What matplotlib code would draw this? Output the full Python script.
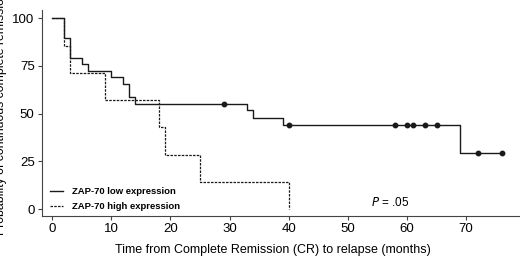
import matplotlib
matplotlib.use("Agg")
from matplotlib import pyplot as plt

plt.rcParams['font.family'] = ['Liberation Sans', 'DejaVu Sans']

# ZAP-70 low expression (solid)
lowTime = [0, 2, 3, 5, 6, 10, 12, 13, 14, 33, 34, 39, 69, 76]
lowSurv = [100, 89.7, 79.3, 75.9, 72.4, 69.0, 65.5, 58.6, 55.2, 51.7, 47.6, 44.2, 29.5, 29.5]
lowCensT = [29, 40, 58, 60, 61, 63, 65, 72, 76]
lowCensS = [55.2, 44.2, 44.2, 44.2, 44.2, 44.2, 44.2, 29.5, 29.5]

# ZAP-70 high expression (dashed)
highTime = [0, 2, 3, 9, 18, 19, 25, 40]
highSurv = [100, 85.7, 71.4, 57.1, 42.9, 28.6, 14.3, 0]

col = "#1a1a1a"

fig = plt.figure(figsize=(5.2, 2.57), dpi=100)
ax = fig.add_axes([0.080, 0.160, 0.93, 0.801])

ax.step(lowTime, lowSurv, where="post", color=col, linewidth=1.0, label="ZAP-70 low expression")
ax.step(highTime, highSurv, where="post", color=col, linewidth=0.9, linestyle=(0, (2, 1)),
        label="ZAP-70 high expression")
ax.plot(lowCensT, lowCensS, "o", color=col, markersize=3.2, linestyle="none")

ax.set_xlim(-1.8, 80)
ax.set_ylim(-3.5, 104.3)
ax.set_xticks([0, 10, 20, 30, 40, 50, 60, 70])
ax.set_yticks([0, 25, 50, 75, 100])
ax.tick_params(labelsize=9.5, length=3, width=0.8, pad=2, color="#444444")
ax.spines["top"].set_visible(False)
ax.spines["right"].set_visible(False)
ax.spines["left"].set_color("#444444")
ax.spines["bottom"].set_color("#444444")

ax.set_xlabel("Time from Complete Remission (CR) to relapse (months)", fontsize=9)
ax.xaxis.set_label_coords(0.478, -0.135)
ax.set_ylabel("Probability of continuous complete remission", fontsize=8.8, labelpad=4)

ax.text(54, 3.4, "$P$ = .05", fontsize=8.5, va="center", ha="left")

leg = ax.legend(loc="lower left", bbox_to_anchor=(0.0, -0.018), frameon=False,
                prop={"weight": "bold", "size": 6.8}, handlelength=1.4, handletextpad=0.9,
                labelspacing=0.6)

fig.savefig("out.png", dpi=100)
